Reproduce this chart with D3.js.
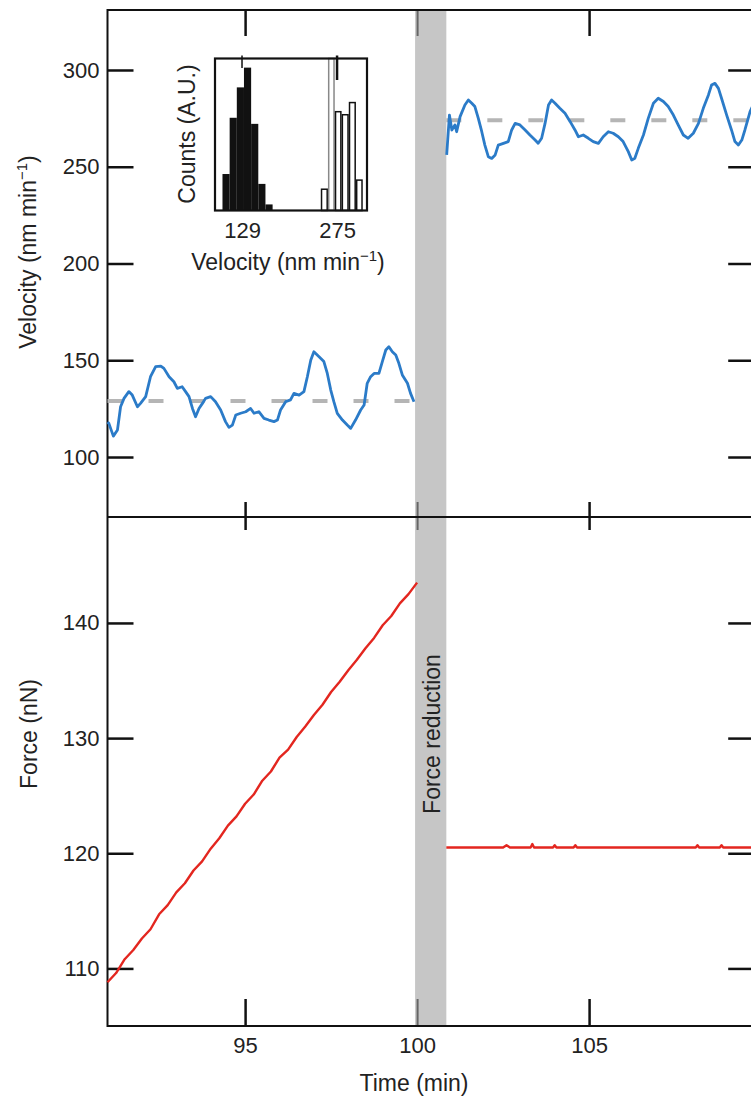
<!DOCTYPE html>
<html>
<head>
<meta charset="utf-8">
<script src="https://cdnjs.cloudflare.com/ajax/libs/d3/7.8.5/d3.min.js"></script>
<style>
  body { margin: 0; background: #fff; }
  svg text { font-family: "Liberation Sans", Arial, Helvetica, sans-serif; fill: #222; }
</style>
</head>
<body>
<svg width="751" height="1100"></svg>
<script>
// Velocity trace before force reduction [time (min), velocity (nm/min)]
const velBefore = [
  [91.0,118.0],[91.04,117.4],[91.17,110.8],[91.29,114.0],[91.38,126.0],[91.48,130.3],[91.62,133.8],[91.72,132.0],
  [91.87,126.0],[91.96,127.7],[92.11,131.2],[92.25,141.5],[92.40,146.7],[92.55,147.0],[92.64,145.8],[92.79,141.5],
  [92.93,138.9],[93.03,135.5],[93.17,136.3],[93.27,133.8],[93.37,131.2],[93.47,125.1],[93.56,120.8],[93.66,125.1],
  [93.76,127.7],[93.85,130.3],[94.00,131.2],[94.14,128.6],[94.29,124.3],[94.43,118.3],[94.53,115.3],[94.63,116.5],
  [94.73,121.7],[94.87,122.6],[95.02,123.4],[95.16,125.1],[95.26,122.6],[95.40,123.4],[95.55,120.0],[95.69,119.1],
  [95.84,118.3],[95.94,119.1],[96.03,124.3],[96.18,128.6],[96.32,129.5],[96.42,132.9],[96.57,132.0],[96.71,133.8],
  [96.81,141.5],[96.91,150.1],[97.00,154.4],[97.15,151.8],[97.29,149.3],[97.39,143.2],[97.49,134.6],[97.58,128.6],
  [97.68,122.6],[97.83,119.1],[97.97,116.5],[98.07,114.8],[98.21,119.1],[98.36,124.3],[98.46,126.9],[98.55,138.1],
  [98.65,141.5],[98.75,143.2],[98.89,143.2],[98.99,149.3],[99.09,155.3],[99.18,157.0],[99.28,154.4],[99.38,152.7],
  [99.47,148.4],[99.57,142.4],[99.72,138.1],[99.81,132.9],[99.91,128.6]
];

// Velocity trace after force reduction
const velAfter = [
  [100.86,256.1],[100.94,276.7],[101.01,269.0],[101.10,271.6],[101.15,268.1],[101.25,275.9],[101.39,281.9],[101.49,284.5],
  [101.59,282.8],[101.68,281.1],[101.78,275.0],[101.88,268.1],[101.97,261.2],[102.07,255.2],[102.17,254.3],[102.27,256.1],
  [102.36,261.2],[102.51,262.1],[102.65,263.0],[102.75,269.0],[102.85,272.4],[102.99,271.6],[103.14,269.0],[103.28,266.4],
  [103.43,263.8],[103.52,262.1],[103.62,264.7],[103.72,272.4],[103.82,281.9],[103.91,284.5],[104.01,282.8],[104.15,280.2],
  [104.30,277.6],[104.45,273.3],[104.59,269.0],[104.69,265.5],[104.83,266.4],[104.98,264.7],[105.12,263.0],[105.27,262.1],
  [105.41,265.5],[105.56,268.1],[105.70,267.3],[105.85,265.5],[105.99,263.0],[106.14,257.8],[106.24,253.5],[106.33,254.4],
  [106.43,259.5],[106.58,266.4],[106.72,275.0],[106.87,282.8],[107.01,285.4],[107.16,283.7],[107.30,281.1],[107.45,276.7],
  [107.59,271.6],[107.74,266.4],[107.88,264.7],[108.03,267.3],[108.18,272.4],[108.32,280.2],[108.47,287.1],[108.56,292.2],
  [108.66,293.1],[108.76,290.5],[108.85,285.4],[109.00,276.7],[109.14,269.0],[109.24,263.0],[109.34,261.2],[109.44,263.8],
  [109.53,269.0],[109.68,278.5],[109.8,283.0]
];

// Mean velocities (dashed lines)
const meanSlow = 129;
const meanFast = 274;

// Force ramp before reduction [time, force (nN)]
const forceRamp = [
  [91.0,108.8],[91.25,109.6],[91.5,110.8],[91.75,111.6],[92.0,112.6],[92.25,113.4],[92.5,114.7],[92.75,115.5],
  [93.0,116.6],[93.25,117.4],[93.5,118.5],[93.75,119.3],[94.0,120.4],[94.25,121.3],[94.5,122.4],[94.75,123.2],
  [95.0,124.3],[95.25,125.1],[95.5,126.3],[95.75,127.1],[96.0,128.3],[96.25,129.0],[96.5,130.1],[96.75,131.0],
  [97.0,132.0],[97.25,132.9],[97.5,134.0],[97.75,134.9],[98.0,135.9],[98.25,136.8],[98.5,137.8],[98.75,138.7],
  [99.0,139.8],[99.25,140.6],[99.5,141.7],[99.75,142.5],[100.0,143.5]
];

// Force plateau after reduction
const forceFlat = [
  [100.85,120.5],[101.5,120.5],[102.5,120.5],[102.6,120.7],[102.7,120.5],[103.3,120.5],[103.35,120.8],[103.4,120.5],
  [103.95,120.5],[104.0,120.7],[104.05,120.5],[104.55,120.5],[104.6,120.7],[104.65,120.5],[106.0,120.5],[107.5,120.5],
  [108.1,120.5],[108.15,120.7],[108.2,120.5],[108.8,120.5],[108.85,120.7],[108.9,120.5],[109.8,120.5]
];

// Force reduction window
const reductionWindow = [100, 100.85];

// Inset histograms (bin edges in nm/min, relative counts)
const slowEdges = [99, 110, 121, 132, 143, 154, 165, 176];
const slowCounts = [0.24, 0.61, 0.81, 0.94, 0.57, 0.175, 0.04];
const fastEdges = [250, 261, 271.5, 282, 293, 304, 314.5];
const fastCounts = [0.14, 1.0, 0.65, 0.63, 0.71, 0.2];

// Tick values
const timeTicks = [95, 100, 105];
const velTicks = [100, 150, 200, 250, 300];
const forceTicks = [110, 120, 130, 140];
const insetTicks = [129, 275];

const svg = d3.select('svg');
const blue = '#2b7bc8', red = '#e3261f', band = '#c6c6c6', dash = '#b5b5b5';

const left = 107.5, right = 754.2;
const topY = 10, midY = 517, botY = 1026;

const x = d3.scaleLinear().domain([91, 109.8]).range([left, right]);
const yV = d3.scaleLinear().domain([69, 331]).range([midY, topY]);
const yF = d3.scaleLinear().domain([105, 149.2]).range([botY, midY]);

// grey band for force reduction
svg.append('rect')
  .attr('x', x(reductionWindow[0]) - 2)
  .attr('width', x(reductionWindow[1]) - x(reductionWindow[0]) + 2)
  .attr('y', topY).attr('height', botY - topY)
  .attr('fill', band);

function styleAxis(g) {
  g.selectAll('.domain').remove();
  g.selectAll('.tick line').attr('stroke', '#111').attr('stroke-width', 2.5);
  g.selectAll('.tick text').attr('font-size', 22).attr('fill', '#222');
}

// left axes
svg.append('g').attr('transform', `translate(${left},0)`)
  .call(d3.axisLeft(yV).tickValues(velTicks).tickSize(-26).tickPadding(8)).call(styleAxis);
svg.append('g').attr('transform', `translate(${left},0)`)
  .call(d3.axisLeft(yF).tickValues(forceTicks).tickSize(-26).tickPadding(8)).call(styleAxis);
// right axes (ticks only)
svg.append('g').attr('transform', `translate(${right},0)`)
  .call(d3.axisRight(yV).tickValues(velTicks).tickSize(-26).tickFormat('')).call(styleAxis);
svg.append('g').attr('transform', `translate(${right},0)`)
  .call(d3.axisRight(yF).tickValues(forceTicks).tickSize(-26).tickFormat('')).call(styleAxis);

// time axes: top, shared middle border, bottom
const timeAxes = svg.append('g');
timeAxes.append('g').attr('transform', `translate(0,${topY})`)
  .call(d3.axisTop(x).tickValues(timeTicks).tickSize(-26).tickFormat('')).call(styleAxis);
timeAxes.append('g').attr('transform', `translate(0,${midY})`)
  .call(d3.axisBottom(x).tickValues(timeTicks).tickSize(-15).tickFormat('')).call(styleAxis);
timeAxes.append('g').attr('transform', `translate(0,${midY})`)
  .call(d3.axisTop(x).tickValues(timeTicks).tickSize(-13).tickFormat('')).call(styleAxis);
timeAxes.append('g').attr('transform', `translate(0,${botY})`)
  .call(d3.axisBottom(x).tickValues(timeTicks).tickSize(-27).tickPadding(11)).call(styleAxis);

// the 100 min tick sits inside the band: lighten it
timeAxes.selectAll('.tick').filter(d => d === 100).select('line').attr('stroke', '#666').attr('stroke-width', 2);

// frame lines
const frame = svg.append('g').attr('stroke', '#111').attr('stroke-width', 2);
frame.append('line').attr('x1', left).attr('x2', left).attr('y1', topY - 1).attr('y2', botY + 1);
frame.append('line').attr('x1', right).attr('x2', right).attr('y1', topY).attr('y2', botY);
[topY, midY, botY].forEach(yy => frame.append('line').attr('x1', left).attr('x2', right).attr('y1', yy).attr('y2', yy));

// mean dashed lines
svg.append('line')
  .attr('x1', x(91)).attr('x2', x(reductionWindow[0]))
  .attr('y1', yV(meanSlow)).attr('y2', yV(meanSlow))
  .attr('stroke', dash).attr('stroke-width', 4).attr('stroke-dasharray', '15,26');
svg.append('line')
  .attr('x1', x(reductionWindow[1])).attr('x2', x(109.8))
  .attr('y1', yV(meanFast)).attr('y2', yV(meanFast))
  .attr('stroke', dash).attr('stroke-width', 4).attr('stroke-dasharray', '15,26');

// velocity traces
const lineV = d3.line().x(d => x(d[0])).y(d => yV(d[1]));
[velBefore, velAfter].forEach(s => svg.append('path')
  .datum(s).attr('d', lineV)
  .attr('fill', 'none').attr('stroke', blue).attr('stroke-width', 2.8).attr('stroke-linejoin', 'round'));

// force traces
const lineF = d3.line().x(d => x(d[0])).y(d => yF(d[1]));
[forceRamp, forceFlat].forEach(s => svg.append('path')
  .datum(s).attr('d', lineF)
  .attr('fill', 'none').attr('stroke', red).attr('stroke-width', 2.4).attr('stroke-linejoin', 'round'));

// axis titles
svg.append('text')
  .attr('transform', 'translate(36,252) rotate(-90)')
  .attr('text-anchor', 'middle').attr('font-size', 23)
  .html('Velocity (nm min<tspan dy="-9" font-size="15">−1</tspan><tspan dy="9">)</tspan>');
svg.append('text')
  .attr('transform', 'translate(37,734) rotate(-90)')
  .attr('text-anchor', 'middle').attr('font-size', 23)
  .text('Force (nN)');
svg.append('text')
  .attr('x', 414).attr('y', 1091)
  .attr('text-anchor', 'middle').attr('font-size', 23)
  .text('Time (min)');
svg.append('text')
  .attr('transform', `translate(${(x(reductionWindow[0]) + x(reductionWindow[1])) / 2 + 8},734) rotate(-90)`)
  .attr('text-anchor', 'middle').attr('font-size', 23).attr('fill', '#333')
  .text('Force reduction');

// ---- inset histogram ----
const inset = { l: 215, r: 367, t: 58.5, b: 210.5 };
const xi = d3.scaleLinear().domain([87.5, 321]).range([inset.l, inset.r]);
const yi = d3.scaleLinear().domain([0, 1]).range([inset.b, inset.t]);
const ins = svg.append('g');

ins.append('rect')
  .attr('x', inset.l).attr('y', inset.t)
  .attr('width', inset.r - inset.l).attr('height', inset.b - inset.t)
  .attr('fill', '#fff').attr('stroke', 'none');

ins.selectAll('.slow').data(slowCounts).enter().append('rect')
  .attr('x', (d, i) => xi(slowEdges[i]))
  .attr('width', (d, i) => xi(slowEdges[i + 1]) - xi(slowEdges[i]))
  .attr('y', d => yi(d)).attr('height', d => yi(0) - yi(d))
  .attr('fill', '#111');

ins.selectAll('.fast').data(fastCounts).enter().append('rect')
  .attr('x', (d, i) => xi(fastEdges[i]) + 0.75)
  .attr('width', (d, i) => xi(fastEdges[i + 1]) - xi(fastEdges[i]) - 1.5)
  .attr('y', d => yi(d)).attr('height', d => yi(0) - yi(d))
  .attr('fill', '#fff').attr('stroke', (d, i) => d === 1 ? '#888' : '#111').attr('stroke-width', 1.5);

// mean markers
insetTicks.forEach((v, i) => ins.append('line')
  .attr('x1', xi(v)).attr('x2', xi(v))
  .attr('y1', inset.t - 3).attr('y2', i === 0 ? 68 : 80)
  .attr('stroke', '#111').attr('stroke-width', i === 0 ? 1.5 : 2.5));

ins.append('rect')
  .attr('x', inset.l).attr('y', inset.t)
  .attr('width', inset.r - inset.l).attr('height', inset.b - inset.t)
  .attr('fill', 'none').attr('stroke', '#111').attr('stroke-width', 2.2);

ins.append('g').attr('transform', `translate(0,${inset.b})`)
  .call(d3.axisBottom(xi).tickValues(insetTicks).tickSize(0).tickPadding(12))
  .call(g => g.select('.domain').remove())
  .call(g => g.selectAll('text').attr('font-size', 22).attr('fill', '#222'));

ins.append('text')
  .attr('x', 288).attr('y', 270)
  .attr('text-anchor', 'middle').attr('font-size', 23)
  .html('Velocity (nm min<tspan dy="-9" font-size="15">−1</tspan><tspan dy="9">)</tspan>');
ins.append('text')
  .attr('transform', 'translate(195,134) rotate(-90)')
  .attr('text-anchor', 'middle').attr('font-size', 23)
  .text('Counts (A.U.)');
</script>
</body>
</html>
